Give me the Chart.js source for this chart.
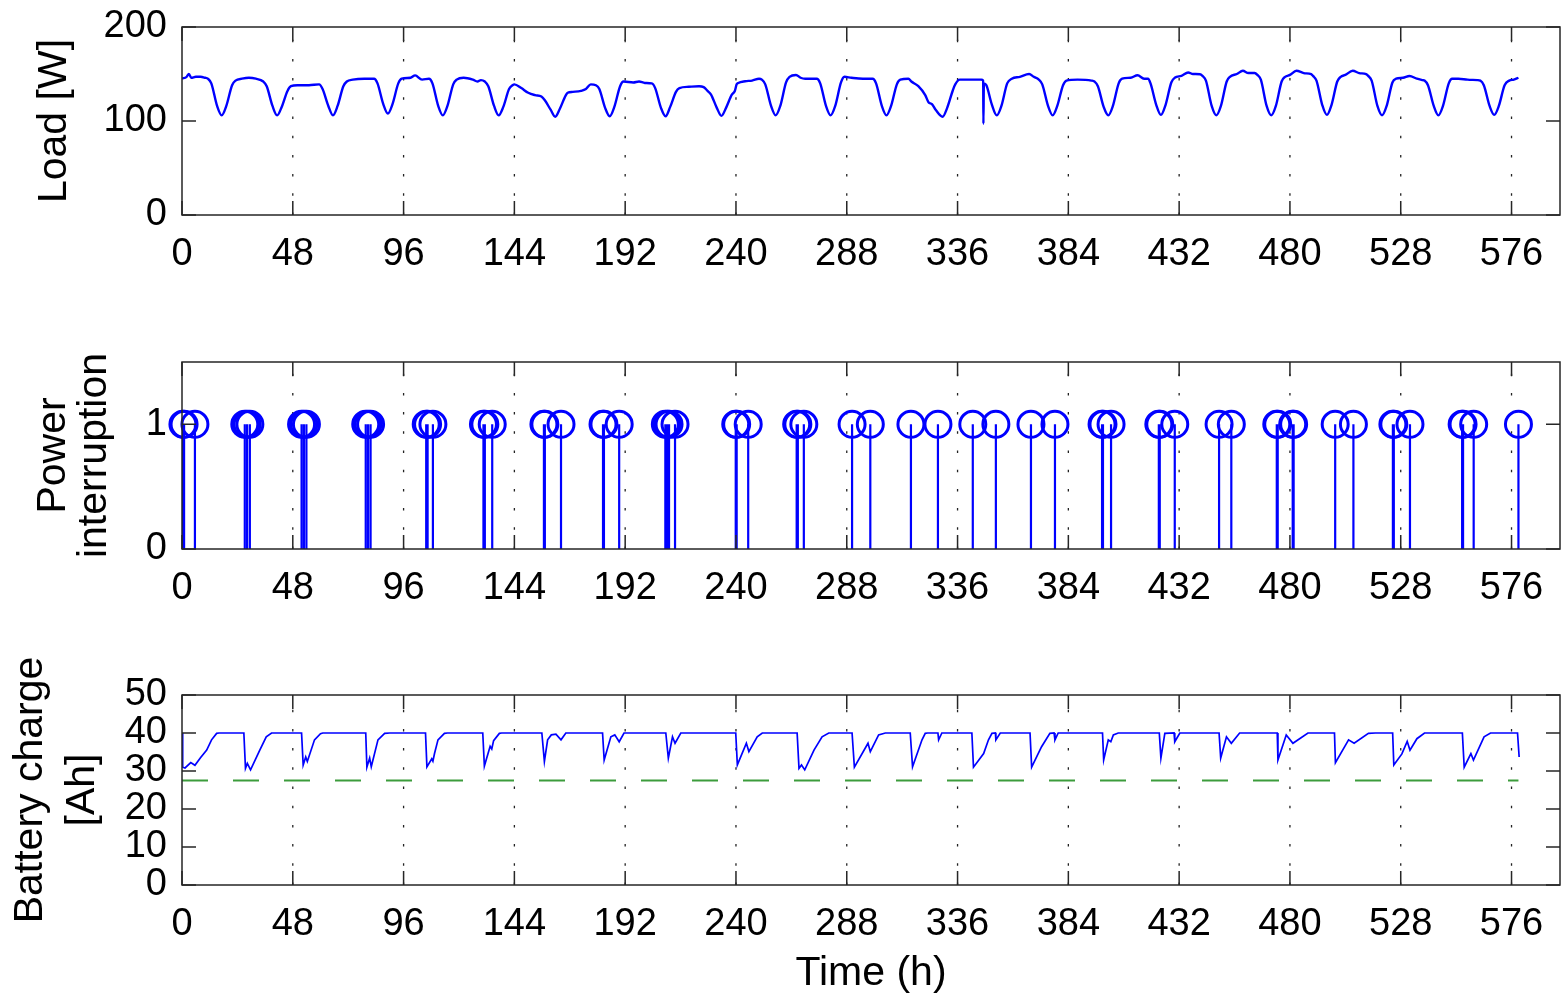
<!DOCTYPE html>
<html>
<head>
<meta charset="utf-8">
<script src="https://cdn.jsdelivr.net/npm/chart.js@4.4.1/dist/chart.umd.min.js"></script>
<style>
  html, body { margin: 0; padding: 0; background: #fff; }
  #page { position: relative; width: 1562px; height: 996px; }
  .panel { position: absolute; left: 0; width: 1562px; }
</style>
</head>
<body>
<div id="page">
  <div class="panel" style="top:0;height:300px"><canvas id="loadChart"></canvas></div>
  <div class="panel" style="top:300px;height:330px"><canvas id="outageChart"></canvas></div>
  <div class="panel" style="top:630px;height:366px"><canvas id="batteryChart"></canvas></div>
</div>
<script>
// time axis (hours)
const xTicks = [0, 48, 96, 144, 192, 240, 288, 336, 384, 432, 480, 528, 576];
const xMax = 597;

const loadTicks = [0, 100, 200];
const outageTicks = [0, 1];
const batteryTicks = [0, 10, 20, 30, 40, 50];

// load [W] as [hour, watts]
const loadTrace = [
  [0,145],[2,147],[3,150],[4,146],[6,147],[8,147],[10,146],[11.2,145],
  [12.7,140],[15.2,116],[17.2,106],[19.2,116],[21.7,138],
  [23.2,143],[26,145],[29,146],[32,145],[35.2,142],
  [36.7,137],[39.2,116],[41.2,106],[43.2,115],[45.7,132],
  [47.2,137],[50,138],[55,138],[59.4,139],
  [60.9,134],[63.4,116],[65.4,106],[67.4,116],[69.9,137],
  [71.4,142],[74,144],[79,145],[83.2,145],
  [84.7,140],[87.2,118],[89.2,108],[91.2,118],[93.7,140],
  [95.2,145],[99,146],[101,148.5],[104,144],[107,145],
  [108.5,140],[111,116],[113,106],[115,116],[117.5,139],
  [119,144],[122,146],[126,144],[128,142],[129.5,143.5],[131.2,142],
  [132.7,137],[135.2,116],[137.2,106],[139.2,115],[141.7,134],
  [143.2,138],[144,139],[147,135],[150,130],[153,127.5],[155.7,126],
  [157.2,122],[159.7,112],[161.7,104.5],[163.7,113],[166.2,127],
  [167.1,130],[169.3,131],[172.8,132],[175,134],[177.1,139],[179.3,138],
  [180.8,134],[183.3,114],[185.3,105],[187.3,115],[189.8,137],
  [191.3,142],[195.5,141],[198,142],[200.5,140.5],[203.5,140],
  [205,135],[207.5,114],[209.5,105],[211.5,115],[214,131],
  [215.5,135],[219.6,136.4],[224,137],[226,136],[227.7,132],
  [229.2,128],[231.7,114],[233.7,105.5],[235.7,114],[238.2,128],
  [239.5,132],[240.3,139],[241,140.5],[244,142.3],[247,143],[250,145],[251.2,144],
  [252.7,139],[255.2,116],[257.2,106],[259.2,116],[261.7,141],
  [263.2,147],[266,149],[268,146],[270,145],[275,145],
  [276.5,140],[279,116],[281,106],[283,116],[285.5,141],
  [287,147],[290,146],[295,145],[299.2,145],
  [300.7,140],[303.2,116],[305.2,106],[307.2,116],[309.7,139],
  [311.2,144],[314.7,145],[316,142],[319,137],[322,127.5],[323.4,120],[324.9,118],
  [326.5,112],[329.5,104.6],[331.5,114],[334,133],
  [335,139],[337,144],[341,144],[346.3,144],[347.1,143],[347.2,97],[347.4,140],[348.5,138],
  [350.8,118],[353,106],[355,116],[357.5,140],
  [359.5,145],[363,147],[367,150],[369,147],[371.2,144],
  [372.7,139],[375.2,116],[377.2,106],[379.2,116],[381.7,138],
  [383.2,143],[388,144],[394,143],[395.3,142],
  [396.8,137],[399.3,115],[401.3,106],[403.3,116],[405.8,140],
  [407.3,145],[411,146],[414,148.6],[416.8,145],[418.5,145],
  [419.6,140],[422.1,117],[424.1,106.5],[426.1,117],[428.6,141],
  [430.1,146],[433,148],[435.9,151.6],[438,150],[441,149.8],[442.1,148],
  [443.6,143],[446.1,116],[448.1,106],[450.1,116],[452.6,142],
  [454,147],[457,150],[459.6,153.4],[462,151],[464.7,151],[465.9,149],
  [467.4,144],[469.9,116],[471.9,106],[473.9,116],[476.4,142],
  [477.9,147],[480,149],[482.8,153.4],[486,151],[489.2,149.8],[490,148],
  [491.5,143],[494,117],[496,106.5],[498,117],[500.5,142],
  [502,147],[504,149],[507.2,153.4],[510,151],[513,149.8],[513.9,148],
  [515.4,143],[517.9,116],[519.9,106],[521.9,116],[524.4,141],
  [526,145],[529,146],[531.8,147.9],[535,145],[537.5,143.5],[538.3,143],
  [539.8,138],[542.3,116],[544.3,106],[546.3,116],[548.8,140],
  [550.3,145],[553,145],[556.9,144],[561.2,143.5],[562.5,143],
  [564,138],[566.5,116],[568.5,106.5],[570.5,116],[573,138],
  [575,143],[577,144],[579,146]
];

// hours at which an interruption happened (stem plot, value 1)
const outageHours = [
  0.4, 0.9, 5.6,
  27.2, 28.2, 29.4,
  51.8, 52.8, 53.9,
  79.6, 80.6, 81.7,
  105.8, 106.4, 108.7,
  130.6, 131.2, 134.4,
  156.8, 157.2, 164.2,
  182.4, 182.8, 189.4,
  209.4, 210.3, 211.0, 213.6,
  239.9, 240.3, 245.3,
  266.3, 266.8, 269.4,
  290.3, 298.2,
  315.8, 327.5,
  342.6, 352.6,
  367.8, 378.2,
  398.6, 399.0, 402.5,
  423.2, 423.6, 430.1,
  449.3, 454.6,
  474.3, 474.7, 481.2, 481.6,
  499.6, 507.5,
  524.6, 525.0, 532.0,
  554.6, 555.0, 559.6,
  579.0
];

// battery charge [Ah] as [hour, Ah]
const batteryTrace = [
  [0,40],[0.3,31],[1.3,30.8],[3.8,32.2],[5.6,31.5],[8,33.5],[10.7,35.5],[12.8,38.2],[15,39.9],[16,40],
  [26.8,40],[27.5,30.7],[28.3,32],[29.7,30.3],[33.7,35.5],[36.5,39],[38.8,40],
  [51.8,40],[52.5,31.6],[53.6,33.7],[54.3,32.5],[57.4,38.2],[60,39.8],[61,40],
  [79.6,40],[80.1,31],[81.3,33.4],[82,31.1],[84.9,38.2],[87.8,39.9],[90,40],
  [105.5,40],[106.1,31.1],[108.2,33.2],[108.7,32.6],[109.4,34.6],[110.9,38.2],[113.7,39.9],[115,40],
  [130.3,40],[131,31.3],[133.5,36.5],[134.2,35.8],[135,38],[137.5,39.9],[138.5,40],
  [155.9,40],[157,32.5],[158.4,38.2],[160,39.5],[162,39.7],[164.2,38.2],[166.3,40],
  [182.2,40],[182.9,32.9],[185.8,39],[187.5,39.5],[189.4,37.7],[191.5,40],
  [209.6,40],[210.7,33.4],[212.5,39],[213.6,37.3],[216.1,40],
  [239.9,40],[240.6,31.6],[244.5,37.3],[245.6,35.1],[249.2,39],[251.4,40],
  [266.5,40],[267.3,30.7],[268.4,31.6],[269.8,30.3],[273.8,35.5],[277.3,39],[280.2,40],
  [290.3,40],[291.3,31],[297.2,37.3],[298.2,35.1],[301.8,39.5],[304.7,40],
  [315.5,40],[316.5,31.1],[320.6,38.2],[322,39.9],[323,40],[327.5,40],[327.8,38.2],[329.2,40],
  [342.2,40],[342.9,31],[347.3,34.6],[349.4,38.2],[350.9,39.9],[352.4,40],[352.6,38.2],[354.5,40],
  [367.4,40],[368.1,31],[372.4,36.4],[376,39.9],[377.8,40],[378.2,38.2],[379.6,40],
  [398.8,40],[399.3,32.9],[401.3,38.2],[402.4,37.7],[403.5,39.5],[405.6,40],
  [423.4,40],[424.1,33.4],[425.8,39.9],[429.8,40],[430.1,37.7],[432.3,40],
  [449.3,40],[450,33.4],[452.5,39],[454.6,37.3],[458.2,40],
  [474.5,40],[474.8,32.9],[478.4,39.5],[481.3,37.3],[487.8,40],
  [499.3,40],[499.7,32.2],[505.4,38.2],[507.8,37.3],[514,39.9],[517,40],
  [524.5,40],[525,31.6],[528.5,34.5],[530.8,37.8],[532,35.5],[535,38.5],[538.3,40],
  [554.7,40],[555.5,31],[558.4,34.6],[559.5,32.9],[564.1,39],[566.9,40],
  [578.6,40],[579.3,33.7]
];

// minimum charge level (green dashed)
const reserveAh = 27.5;
const reserveSpan = [0, 579];

const FONT = '"Liberation Sans", Arial, Helvetica, sans-serif';
const BLUE = '#0000ff';

// matlab style box: dotted x grid, inward ticks on all four sides
const matlabBox = {
  id: 'matlabBox',
  beforeDatasetsDraw(chart, args, opts) {
    const { ctx, chartArea: a, scales: { x } } = chart;
    ctx.save();
    ctx.strokeStyle = '#222';
    ctx.lineWidth = 1.3;
    ctx.setLineDash([2.5, 16.7]);
    xTicks.forEach(v => {
      if (v === 0) return;
      const px = x.getPixelForValue(v);
      ctx.beginPath();
      ctx.moveTo(px, a.bottom);
      ctx.lineTo(px, a.top);
      ctx.stroke();
    });
    ctx.restore();
  },
  afterDatasetsDraw(chart, args, opts) {
    const { ctx, chartArea: a, scales: { x, y } } = chart;
    const len = 14;
    ctx.save();
    ctx.strokeStyle = '#262626';
    ctx.lineWidth = 1.5;
    ctx.beginPath();
    xTicks.forEach(v => {
      const px = x.getPixelForValue(v);
      ctx.moveTo(px, a.bottom); ctx.lineTo(px, a.bottom - len);
      ctx.moveTo(px, a.top); ctx.lineTo(px, a.top + len);
    });
    opts.yTicks.forEach(v => {
      const py = y.getPixelForValue(v);
      ctx.moveTo(a.left, py); ctx.lineTo(a.left + len, py);
      ctx.moveTo(a.right, py); ctx.lineTo(a.right - len, py);
    });
    ctx.stroke();
    ctx.strokeRect(a.left, a.top, a.right - a.left, a.bottom - a.top);
    ctx.restore();
  }
};

function makeScales(cfg) {
  return {
    x: {
      type: 'linear',
      min: 0,
      max: xMax,
      afterBuildTicks: s => { s.ticks = xTicks.map(v => ({ value: v })); },
      afterFit: s => { s.height = cfg.xHeight; s.paddingLeft = 0; s.paddingRight = 0; },
      grid: { display: false, drawTicks: false },
      border: { display: false },
      ticks: { autoSkip: false, maxRotation: 0, padding: 17, color: '#000', font: { family: FONT, size: 38 } },
      title: cfg.xTitle
        ? { display: true, text: cfg.xTitle, color: '#000', padding: { top: 0, bottom: 0 },
            font: { family: FONT, size: 41, lineHeight: 1.1 } }
        : { display: false }
    },
    y: {
      type: 'linear',
      min: cfg.yMin,
      max: cfg.yMax,
      afterBuildTicks: s => { s.ticks = cfg.yTicks.map(v => ({ value: v })); },
      // fixed width, and no extra room for the top/bottom labels
      afterFit: s => { s.width = 182; s.paddingTop = 0; s.paddingBottom = 0; },
      grid: { display: false, drawTicks: false },
      border: { display: false },
      ticks: { autoSkip: false, padding: 15, color: '#000', font: { family: FONT, size: 38 } },
      title: {
        display: true,
        text: cfg.yTitle,
        color: '#000',
        padding: { top: cfg.titlePad, bottom: 0 },
        font: { family: FONT, size: 41, lineHeight: cfg.titleLine }
      }
    }
  };
}

function baseOptions(cfg) {
  return {
    responsive: true,
    maintainAspectRatio: false,
    animation: false,
    layout: { autoPadding: false, padding: { top: cfg.top, right: 2, left: 0, bottom: 0 } },
    plugins: {
      legend: { display: false },
      tooltip: { enabled: false },
      matlabBox: { yTicks: cfg.yTicks }
    },
    scales: makeScales(cfg)
  };
}

function toXY(pairs) {
  return pairs.map(p => ({ x: p[0], y: p[1] }));
}

// top: load
new Chart(document.getElementById('loadChart'), {
  type: 'line',
  data: {
    datasets: [{
      data: toXY(loadTrace),
      borderColor: BLUE,
      borderWidth: 2.4,
      pointRadius: 0,
      cubicInterpolationMode: 'monotone'
    }]
  },
  options: baseOptions({ top: 27, xHeight: 85, yMin: 0, yMax: 200, yTicks: loadTicks,
    yTitle: 'Load [W]', titlePad: 30, titleLine: 1.2 }),
  plugins: [matlabBox]
});

// middle: interruption stems
const stemData = [];
outageHours.forEach(h => {
  stemData.push({ x: h, y: 0 }, { x: h, y: 1 }, { x: h, y: null });
});

new Chart(document.getElementById('outageChart'), {
  type: 'line',
  data: {
    datasets: [
      {
        data: stemData,
        borderColor: BLUE,
        borderWidth: 2.2,
        pointRadius: 0,
        spanGaps: false
      },
      {
        data: outageHours.map(h => ({ x: h, y: 1 })),
        showLine: false,
        pointStyle: 'circle',
        pointRadius: 13,
        pointBorderWidth: 3,
        pointBorderColor: BLUE,
        pointBackgroundColor: 'rgba(0,0,0,0)',
        clip: false
      }
    ]
  },
  options: baseOptions({ top: 62, xHeight: 81, yMin: 0, yMax: 1.5, yTicks: outageTicks,
    yTitle: ['Power', 'interruption'], titlePad: 33, titleLine: 1.0 }),
  plugins: [matlabBox]
});

// bottom: battery charge
new Chart(document.getElementById('batteryChart'), {
  type: 'line',
  data: {
    datasets: [
      {
        data: reserveSpan.map(h => ({ x: h, y: reserveAh })),
        borderColor: '#3c9c3c',
        borderWidth: 2,
        borderDash: [26, 25],
        pointRadius: 0
      },
      {
        data: toXY(batteryTrace),
        borderColor: BLUE,
        borderWidth: 1.7,
        pointRadius: 0,
        tension: 0
      }
    ]
  },
  options: baseOptions({ top: 65, xHeight: 111, yMin: 0, yMax: 50, yTicks: batteryTicks,
    yTitle: ['Battery charge', '[Ah]'], titlePad: 5, titleLine: 1.27, xTitle: 'Time (h)' }),
  plugins: [matlabBox]
});
</script>
</body>
</html>
